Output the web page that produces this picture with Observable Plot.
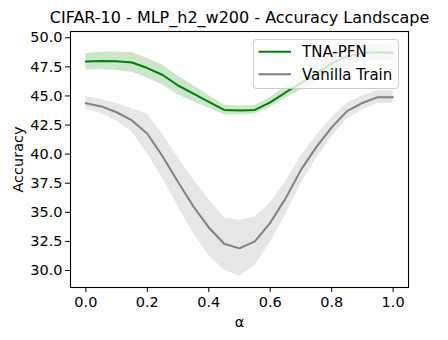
<!DOCTYPE html>
<html>
<head>
<meta charset="utf-8">
<script src="https://cdn.jsdelivr.net/npm/d3@7"></script>
<script src="https://cdn.jsdelivr.net/npm/@observablehq/plot@0.6"></script>
<style>
  html, body { margin: 0; padding: 0; background: #fff; }
  #chart svg { font-family: "DejaVu Sans", sans-serif; }
</style>
</head>
<body>
<div id="chart"></div>
<script>
const alpha = [0, 0.05, 0.1, 0.15, 0.2, 0.25, 0.3, 0.35, 0.4, 0.45, 0.5, 0.55, 0.6, 0.65, 0.7, 0.75, 0.8, 0.85, 0.9, 0.95, 1.0];
const tnaMean = [47.96, 48.0, 47.98, 47.88, 47.4, 46.8, 45.9, 45.2, 44.5, 43.8, 43.75, 43.8, 44.45, 45.3, 46.1, 46.9, 47.8, 48.4, 48.7, 48.75, 48.7];
const tnaStd = [0.7, 0.75, 0.8, 0.85, 0.85, 0.85, 0.82, 0.7, 0.55, 0.42, 0.38, 0.38, 0.42, 0.5, 0.6, 0.7, 0.75, 0.75, 0.7, 0.7, 0.65];
const vanMean = [44.38, 44.1, 43.6, 42.9, 41.75, 39.8, 37.6, 35.5, 33.7, 32.3, 31.9, 32.5, 34.1, 36.2, 38.65, 40.6, 42.3, 43.7, 44.4, 44.9, 44.9];
const vanStd = [0.55, 0.6, 0.75, 1.0, 1.7, 1.9, 2.1, 2.3, 2.4, 2.25, 2.4, 2.1, 1.7, 1.4, 1.2, 1.0, 0.8, 0.7, 0.6, 0.55, 0.55];
const xTicks = [0, 0.2, 0.4, 0.6, 0.8, 1.0];
const yTicks = [30, 32.5, 35, 37.5, 40, 42.5, 45, 47.5, 50];
const seriesNames = ["TNA-PFN", "Vanilla Train"];
const seriesColors = ["green", "gray"];
const titleText = "CIFAR-10 - MLP_h2_w200 - Accuracy Landscape";

const tna = alpha.map((a, i) => ({a, m: tnaMean[i], lo: tnaMean[i] - tnaStd[i], hi: tnaMean[i] + tnaStd[i]}));
const van = alpha.map((a, i) => ({a, m: vanMean[i], lo: vanMean[i] - vanStd[i], hi: vanMean[i] + vanStd[i]}));

const W = 448, H = 340;
const mL = 70, mR = 40, mT = 31, mB = 53;

const plot = Plot.plot({
  width: W,
  height: H,
  marginLeft: mL,
  marginRight: mR,
  marginTop: mT,
  marginBottom: mB,
  style: {fontFamily: "DejaVu Sans, sans-serif", background: "white", color: "black"},
  x: {domain: [-0.05, 1.05]},
  y: {domain: [28.54, 50.54]},
  marks: [
    Plot.areaY(tna, {x: "a", y1: "lo", y2: "hi", fill: seriesColors[0], fillOpacity: 0.2}),
    Plot.lineY(tna, {x: "a", y: "m", stroke: seriesColors[0], strokeWidth: 2}),
    Plot.areaY(van, {x: "a", y1: "lo", y2: "hi", fill: seriesColors[1], fillOpacity: 0.2}),
    Plot.lineY(van, {x: "a", y: "m", stroke: seriesColors[1], strokeWidth: 2}),
    Plot.frame({stroke: "black", strokeWidth: 1.1}),
    Plot.axisX({ticks: xTicks, tickFormat: d3.format(".1f"), tickSize: 5, tickPadding: 4, fontSize: 14.5,
      label: "α", labelAnchor: "center", labelArrow: "none", labelOffset: 39}),
    Plot.axisY({ticks: yTicks, tickFormat: d3.format(".1f"), tickSize: 5, tickPadding: 3, fontSize: 14.5,
      label: "Accuracy", labelAnchor: "center", labelArrow: "none", labelOffset: 58}),
    Plot.text([titleText], {frameAnchor: "top", dy: -9, text: d => d, fontSize: 16, lineAnchor: "bottom", fill: "black"})
  ]
});

document.getElementById("chart").appendChild(plot);

// legend (matplotlib-like box, upper right)
const svg = d3.select(plot);
const lg = svg.append("g").attr("text-anchor", "start");
lg.append("rect")
  .attr("x", 253.5).attr("y", 39.5).attr("width", 145).attr("height", 49)
  .attr("rx", 3).attr("ry", 3)
  .attr("fill", "white").attr("fill-opacity", 0.8)
  .attr("stroke", "#cccccc").attr("stroke-width", 1);
seriesNames.forEach((name, i) => {
  const cy = 51.7 + i * 22.5;
  lg.append("line").attr("x1", 258.5).attr("x2", 291).attr("y1", cy).attr("y2", cy)
    .attr("stroke", seriesColors[i]).attr("stroke-width", 2);
  lg.append("text").attr("x", 302).attr("y", cy).attr("dy", "0.36em")
    .attr("text-anchor", "start")
    .attr("font-size", 15).attr("fill", "black").text(name);
});
</script>
</body>
</html>
